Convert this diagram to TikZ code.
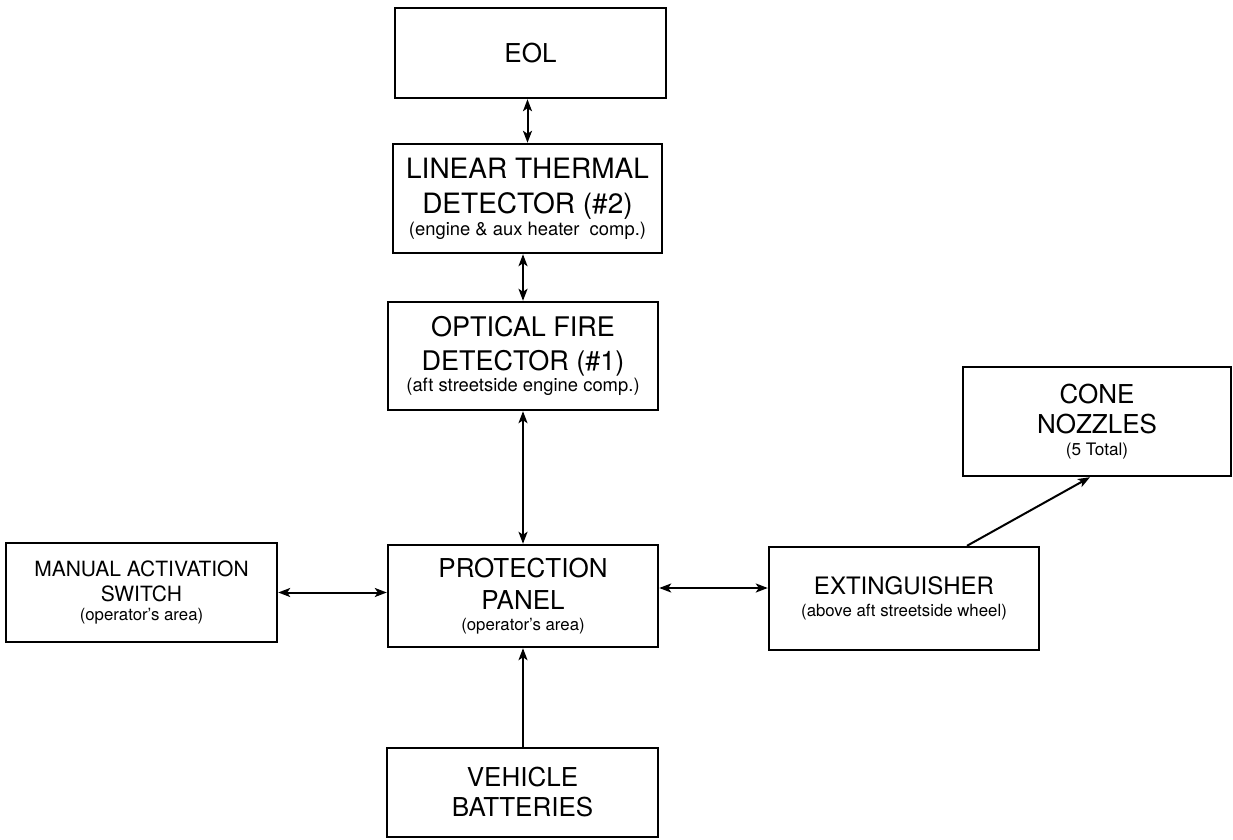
\documentclass[tikz,border=0pt]{standalone}
\usepackage{fontspec}
\setmainfont{TeX Gyre Heros}
\usetikzlibrary{arrows.meta}
\begin{document}
\begin{tikzpicture}[x=0.5pt,y=-0.5pt,
  box/.style={draw, line width=1.2pt, rectangle, align=center, inner sep=0pt},
  link/.style={line width=1pt, {Stealth[length=6pt,width=4.5pt,inset=1.5pt]}-{Stealth[length=6pt,width=4.5pt,inset=1.5pt]}},
  uplink/.style={line width=1pt, -{Stealth[length=6pt,width=4.5pt,inset=1.5pt]}}]
\fill[white] (0,0) rectangle (1233,840);
\useasboundingbox (0,0) rectangle (1233,840);

\node[box, minimum width=135.5pt, minimum height=45pt, font=\fontsize{13}{16}\selectfont] (eol) at (530.5,53) {EOL};

\node[box, minimum width=134.5pt, minimum height=54.5pt, font=\fontsize{14}{17.5}\selectfont] (lin) at (527.5,198.5)
  {LINEAR THERMAL\\DETECTOR (\#2)\\[-6.5pt]{\fontsize{9.2}{11}\selectfont (engine \& aux heater\ \ comp.)}};

\node[box, minimum width=135pt, minimum height=54pt, font=\fontsize{13.5}{17}\selectfont] (opt) at (523,356)
  {OPTICAL FIRE\\DETECTOR (\#1)\\[-6.5pt]{\fontsize{9.2}{11}\selectfont (aft streetside engine comp.)}};

\node[box, minimum width=135.5pt, minimum height=49.5pt, font=\fontsize{10.5}{12.5}\selectfont] (man) at (141.5,592.5)
  {MANUAL ACTIVATION\\SWITCH\\[-3pt]{\fontsize{8.4}{10}\selectfont (operator's area)}};

\node[box, minimum width=135pt, minimum height=51pt, font=\fontsize{13}{16}\selectfont] (prot) at (523,596)
  {PROTECTION\\PANEL\\[-5.5pt]{\fontsize{8.4}{10}\selectfont (operator's area)}};

\node[box, minimum width=135pt, minimum height=51.5pt, font=\fontsize{12}{15}\selectfont] (ext) at (904,598.5)
  {EXTINGUISHER\\[-4pt]{\fontsize{8.4}{10}\selectfont (above aft streetside wheel)}};

\node[box, minimum width=134pt, minimum height=54.5pt, font=\fontsize{13}{15}\selectfont] (cone) at (1097,421.5)
  {CONE\\NOZZLES\\[-4pt]{\fontsize{8.6}{10}\selectfont (5 Total)}};

\node[box, minimum width=135.5pt, minimum height=44.5pt, font=\fontsize{13}{15}\selectfont] (batt) at (522.5,792.5)
  {VEHICLE\\BATTERIES};

\draw[link] (eol.south -| lin.north) -- (lin.north);
\draw[link] (lin.south -| opt.north) -- (opt.north);
\draw[link] (opt.south) -- (prot.north);
\draw[link] (man.east) -- (man.east -| prot.west);
\draw[link] ([yshift=4pt]prot.east) -- ([yshift=4pt]prot.east -| ext.west);
\draw[uplink] (batt.north -| prot.south) -- (prot.south);
\draw[uplink] ([xshift=31.5pt]ext.north) -- ([xshift=-3.5pt]cone.south);
\end{tikzpicture}
\end{document}
